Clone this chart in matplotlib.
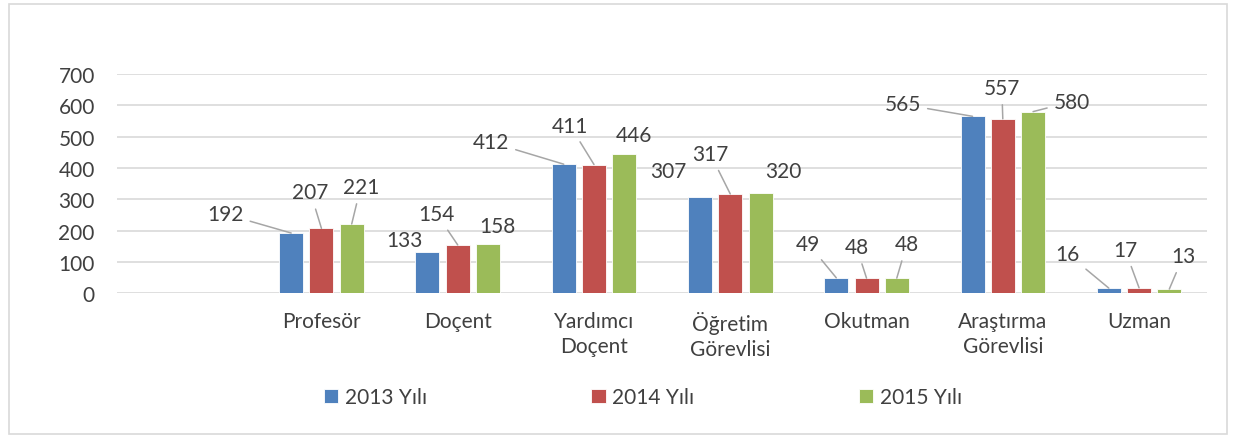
import numpy as np
import matplotlib.pyplot as plt
from matplotlib.patches import Rectangle

plt.rcParams['font.family'] = ['Lato', 'DejaVu Sans']

# veriler
categories = ['', 'Profesör', 'Doçent', 'Yardımcı\nDoçent', 'Öğretim\nGörevlisi',
              'Okutman', 'Araştırma\nGörevlisi', 'Uzman']
series_names = ['2013 Yılı', '2014 Yılı', '2015 Yılı']
y2013 = [None, 192, 133, 412, 307, 49, 565, 16]
y2014 = [None, 207, 154, 411, 317, 48, 557, 17]
y2015 = [None, 221, 158, 446, 320, 48, 580, 13]
yticks = [0, 100, 200, 300, 400, 500, 600, 700]

colors = ['#4F81BD', '#C0504D', '#9BBB59']
text_color = '#404040'
grid_color = '#D9D9D9'
fs = 15

# etiket kaymalari (piksel) ve kilavuz cizgisi olup olmadigi
label_offsets = [
    [(-66, 19), (-23, 12), (-73, 22), (-32, 26), (-28, 34), (-70, 12), (-41, 34)],
    [(-11, 36), (-21, 31), (-24, 39), (-20, 40), (-10, 31), (-1, 31), (-14, 38)],
    [(9, 37), (9, 18), (10, 19), (23, 22), (10, 34), (39, 10), (14, 33)],
]
leaders = [
    [True, False, True, False, True, True, True],
    [True, True, True, True, True, True, True],
    [True, False, False, False, True, True, True],
]

fig = plt.figure(figsize=(12.36, 4.39), dpi=100)
fig.patches.append(Rectangle((0.007, 0.009), 0.986, 0.98, transform=fig.transFigure,
                             fill=False, edgecolor=grid_color, linewidth=1.2))
ax = fig.add_axes([0.0947, 0.330, 0.882, 0.499])

x = np.arange(len(categories))
width = 0.176
step = 0.222
all_series = [y2013, y2014, y2015]
for i, vals in enumerate(all_series):
    xs = [xx + (i - 1) * step for xx, v in zip(x, vals) if v is not None]
    vs = [v for v in vals if v is not None]
    ax.bar(xs, vs, width=width, color=colors[i], edgecolor='white', linewidth=0.6,
           label=series_names[i], zorder=3)
    for j, (xx, v) in enumerate(zip(xs, vs)):
        dx, dy = label_offsets[i][j]
        ap = None
        if leaders[i][j]:
            ap = dict(arrowstyle='-', color='#A6A6A6', lw=1.1, shrinkA=3, shrinkB=0)
        ax.annotate(str(v), xy=(xx, v), xytext=(dx, dy), textcoords='offset pixels',
                    ha='center', va='center', fontsize=fs, color=text_color,
                    arrowprops=ap, zorder=4)

ax.set_xlim(-0.5, len(categories) - 0.5)
ax.set_ylim(0, 700)
ax.set_yticks(yticks)
ax.set_xticks(x)
ax.set_xticklabels(categories, fontsize=fs, color=text_color, linespacing=1.3)
ax.tick_params(axis='y', labelsize=fs, colors=text_color, length=0, pad=16)
ax.tick_params(axis='x', length=0, pad=13)
ax.grid(axis='y', color=grid_color, linewidth=1.2, zorder=0)
for s in ax.spines.values():
    s.set_visible(False)

handles, labels = ax.get_legend_handles_labels()
fig.legend(handles, labels, loc='center', bbox_to_anchor=(0.52, 0.093), ncol=3,
           frameon=False, fontsize=fs, handlelength=0.7, handleheight=0.7,
           handletextpad=0.3, columnspacing=7.9, labelcolor=text_color)

fig.savefig('out.png', dpi=100)
